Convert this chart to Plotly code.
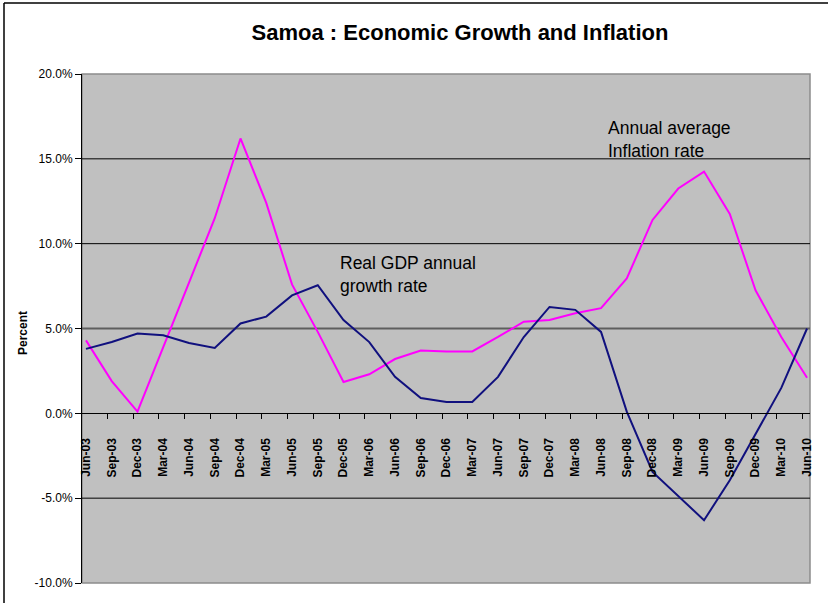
import plotly.graph_objects as go

quarters = ["Jun-03", "Sep-03", "Dec-03", "Mar-04", "Jun-04", "Sep-04", "Dec-04", "Mar-05",
            "Jun-05", "Sep-05", "Dec-05", "Mar-06", "Jun-06", "Sep-06", "Dec-06", "Mar-07",
            "Jun-07", "Sep-07", "Dec-07", "Mar-08", "Jun-08", "Sep-08", "Dec-08", "Mar-09",
            "Jun-09", "Sep-09", "Dec-09", "Mar-10", "Jun-10"]

gdp_growth = [3.8, 4.2, 4.7, 4.6, 4.15, 3.85, 5.3, 5.7, 6.95, 7.55, 5.5, 4.2, 2.15, 0.9,
              0.67, 0.67, 2.15, 4.5, 6.27, 6.1, 4.8, 0.1, -3.45, -4.9, -6.3, -3.95, -1.2,
              1.5, 5.0]

inflation = [4.3, 1.9, 0.1, 3.9, 7.7, 11.5, 16.2, 12.4, 7.6, 4.8, 1.85, 2.3, 3.2, 3.7,
             3.65, 3.65, 4.5, 5.4, 5.5, 5.9, 6.2, 7.95, 11.4, 13.25, 14.25, 11.75, 7.25,
             4.5, 2.1]

y_ticks = [-10, -5, 0, 5, 10, 15, 20]
y_tick_labels = ["-10.0%", "-5.0%", "0.0%", "5.0%", "10.0%", "15.0%", "20.0%"]
grid_black = [-5, 10, 15]
grid_grey = [5]

idx = list(range(len(quarters)))

fig = go.Figure()
fig.add_trace(go.Scatter(x=idx, y=inflation, mode="lines",
                         line=dict(color="#FF00FF", width=2), name="Inflation"))
fig.add_trace(go.Scatter(x=idx, y=gdp_growth, mode="lines",
                         line=dict(color="#10107E", width=2), name="GDP"))

L, R, T, B = 82, 18, 74, 20
W, H = 828, 603
pw, ph = W - L - R, H - T - B

fig.update_layout(
    width=W, height=H,
    margin=dict(l=L, r=R, t=T, b=B, pad=0),
    paper_bgcolor="white",
    plot_bgcolor="#C0C0C0",
    showlegend=False,
    font=dict(family="Liberation Sans, Arial, sans-serif", color="black"),
    title=dict(text="<b>Samoa : Economic Growth and Inflation</b>",
               font=dict(size=22, color="black"),
               x=460 / W, xref="container", xanchor="center",
               y=1 - 32 / H, yref="container", yanchor="middle"),
)

fig.update_xaxes(
    range=[-0.155, 28.115],
    tickmode="array", tickvals=idx, ticktext=quarters,
    tickangle=-90,
    tickfont=dict(size=12, color="black", family="Liberation Sans, Arial, sans-serif", weight="bold"),
    ticks="outside", ticklen=19, tickcolor="rgba(0,0,0,0)",
    minor=dict(tickmode="array", tickvals=[i + 0.83 for i in range(-1, 28)],
               ticks="outside", ticklen=5, tickcolor="black", showgrid=False),
    showgrid=False, zeroline=False,
    showline=True, linecolor="black", linewidth=1,
    anchor="free", position=(0 - (-10)) / 30,
)

fig.update_yaxes(
    range=[-10, 20],
    tickmode="array", tickvals=y_ticks, ticktext=y_tick_labels,
    tickfont=dict(size=12, color="black"),
    ticks="outside", ticklen=6, tickcolor="black",
    showgrid=False, zeroline=False,
    showline=True, linecolor="black", linewidth=1,
)

# plot area border (grey) and gridlines
fig.add_shape(type="rect", xref="x domain", yref="y domain", x0=0, x1=1, y0=0, y1=1,
              line=dict(color="#8C8C8C", width=1.5), layer="below")
for g in grid_black:
    fig.add_shape(type="line", xref="x domain", yref="y", x0=0, x1=1, y0=g, y1=g,
                  line=dict(color="black", width=1), layer="below")
for g in grid_grey:
    fig.add_shape(type="line", xref="x domain", yref="y", x0=0, x1=1, y0=g, y1=g,
                  line=dict(color="#5E5E5E", width=2), layer="below")

# outer chart frame (top and left edges)
fig.add_shape(type="line", xref="paper", yref="paper",
              x0=(4 - L) / pw, x1=(W - L) / pw, y0=(H - B - 3) / ph, y1=(H - B - 3) / ph,
              line=dict(color="black", width=1.5), layer="above")
fig.add_shape(type="line", xref="paper", yref="paper",
              x0=(4 - L) / pw, x1=(4 - L) / pw, y0=(H - B - 3) / ph, y1=-B / ph,
              line=dict(color="black", width=1.5), layer="above")

# axis title
fig.add_annotation(text="<b>Percent</b>", xref="paper", yref="paper",
                   x=(23 - L) / pw, y=(H - B - 333) / ph, textangle=-90,
                   showarrow=False, font=dict(size=12, color="black"),
                   xanchor="center", yanchor="middle")

# series labels
fig.add_annotation(text="Real GDP annual<br>growth rate", xref="x", yref="y",
                   x=9.78, y=9.55, xanchor="left", yanchor="top", align="left",
                   showarrow=False, font=dict(size=17.5, color="black"))
fig.add_annotation(text="Annual average<br>Inflation rate", xref="x", yref="y",
                   x=20.18, y=17.55, xanchor="left", yanchor="top", align="left",
                   showarrow=False, font=dict(size=17.5, color="black"))

fig.write_html("out.html")
